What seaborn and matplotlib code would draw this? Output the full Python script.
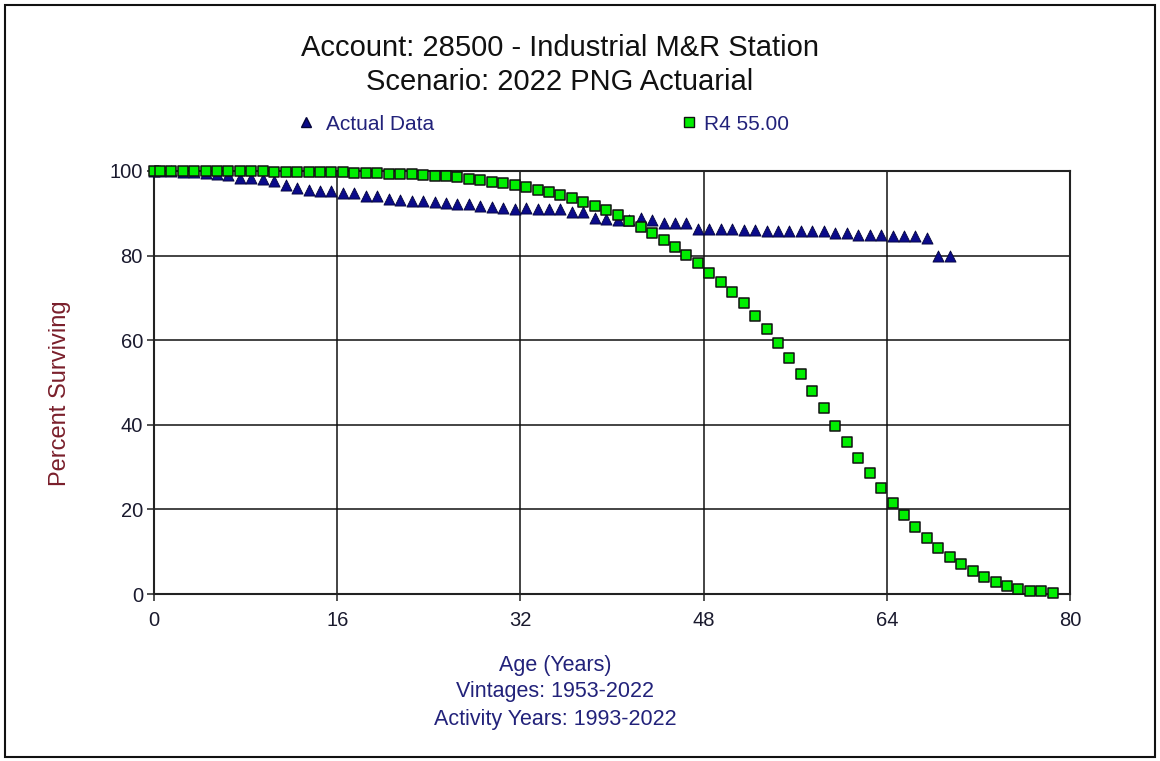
import numpy as np
import pandas as pd
import matplotlib
matplotlib.use("Agg")
import matplotlib.pyplot as plt
from matplotlib.lines import Line2D
from matplotlib.patches import Rectangle
import seaborn as sns

# ---------------- data ----------------
actual_age = [0, 0.5] + [i + 0.5 for i in range(1, 70)]
actual_pct = [100, 100, 99.9, 99.8, 99.7, 99.6, 99.4, 99.0, 98.4, 98.3,
              98.0, 97.7, 96.7, 95.9, 95.6, 95.2, 95.3, 94.8, 94.7, 94.2,
              94.0, 93.4, 93.1, 93.0, 92.8, 92.7, 92.4, 92.3, 92.1, 91.8,
              91.6, 91.3, 91.0, 91.2, 91.0, 91.0, 91.0, 90.2, 90.2, 88.8,
              88.6, 88.4, 88.4, 88.8, 88.4, 87.8, 87.6, 87.6, 86.4, 86.4,
              86.2, 86.2, 86.1, 86.0, 85.8, 85.8, 85.8, 85.8, 85.8, 85.8,
              85.3, 85.3, 84.9, 84.9, 84.9, 84.6, 84.6, 84.6, 84.1, 79.8,
              79.8]

r4_age = [0, 0.5] + [i + 0.5 for i in range(1, 79)]
r4_pct = [100, 100, 100, 100, 100, 99.9, 99.9, 99.9, 99.9, 99.9,
          99.9, 99.8, 99.8, 99.8, 99.8, 99.7, 99.7, 99.7, 99.6, 99.6,
          99.5, 99.4, 99.3, 99.2, 99.1, 98.9, 98.7, 98.5, 98.2, 97.9,
          97.5, 97.1, 96.7, 96.2, 95.6, 95.0, 94.3, 93.5, 92.7, 91.7,
          90.7, 89.5, 88.2, 86.8, 85.3, 83.7, 82.0, 80.2, 78.2, 76.0,
          73.8, 71.3, 68.7, 65.8, 62.7, 59.3, 55.7, 51.9, 48.0, 44.0,
          39.8, 35.9, 32.1, 28.5, 25.0, 21.6, 18.6, 15.9, 13.3, 10.9,
          8.8, 7.0, 5.4, 4.1, 2.9, 2.0, 1.3, 0.8, 0.6, 0.3]

x_ticks = [0, 16, 32, 48, 64, 80]
y_ticks = [0, 20, 40, 60, 80, 100]

title_lines = ["Account: 28500 - Industrial M&R Station",
               "Scenario: 2022 PNG Actuarial"]
legend_labels = ["Actual Data", "R4 55.00"]
xlabel_lines = ["Age (Years)", "Vintages: 1953-2022", "Activity Years: 1993-2022"]
ylabel = "Percent Surviving"

# ---------------- style ----------------
sns.set_theme(style="white")
plt.rcParams['font.family'] = ['Liberation Sans', 'DejaVu Sans']

tri_color = "#0b0b8a"
sq_color = "#00ee00"
tick_color = "#1a1a2e"
navy_text = "#22227a"
maroon = "#7a1f2b"

fig = plt.figure(figsize=(11.6, 7.61), dpi=100)
ax = fig.add_axes([154 / 1160, 1 - 594 / 761, 916 / 1160, 423 / 761])

df_a = pd.DataFrame({"age": actual_age, "pct": actual_pct})
df_r = pd.DataFrame({"age": r4_age, "pct": r4_pct})

sns.scatterplot(data=df_a, x="age", y="pct", ax=ax, marker="^", s=64,
                color=tri_color, edgecolor="#05053a", linewidth=0.6,
                clip_on=False, zorder=3)
sns.scatterplot(data=df_r, x="age", y="pct", ax=ax, marker="s", s=52,
                color=sq_color, edgecolor="#111111", linewidth=1.1,
                clip_on=False, zorder=4)

ax.set_xlim(0, 80)
ax.set_ylim(0, 100)
ax.set_xticks(x_ticks)
ax.set_yticks(y_ticks)
ax.grid(True, color="#111111", linewidth=1.1)
ax.set_axisbelow(True)
for sp in ax.spines.values():
    sp.set_color("#222222")
    sp.set_linewidth(1.5)
ax.tick_params(axis="both", direction="out", length=5, width=1.1,
               colors="#222222", labelsize=14.5, labelcolor=tick_color,
               left=True, bottom=True)
ax.tick_params(axis="x", pad=7)
ax.tick_params(axis="y", pad=3)
ax.set_xlabel("")
ax.set_ylabel("")
fig.text(60 / 1160, 1 - 393 / 761, ylabel, rotation=90, ha="center",
         va="center", fontsize=17, color=maroon)

# title
fig.text(560 / 1160, 1 - 48 / 761, title_lines[0], ha="center", va="center",
         fontsize=21, color="#111111")
fig.text(560 / 1160, 1 - 82 / 761, title_lines[1], ha="center", va="center",
         fontsize=21, color="#111111")

# legend (two single-entry legends)
h_tri = Line2D([], [], marker="^", linestyle="none", markersize=7.5,
               markerfacecolor=tri_color, markeredgecolor="#05053a")
h_sq = Line2D([], [], marker="s", linestyle="none", markersize=7,
              markerfacecolor=sq_color, markeredgecolor="#111111")
leg1 = fig.legend([h_tri], [legend_labels[0]], frameon=False,
                  loc="center left", bbox_to_anchor=(298 / 1160, 1 - 124 / 761),
                  fontsize=15, handlelength=0.8, handletextpad=0.55,
                  borderaxespad=0, borderpad=0)
leg2 = fig.legend([h_sq], [legend_labels[1]], frameon=False,
                  loc="center left", bbox_to_anchor=(681 / 1160, 1 - 124 / 761),
                  fontsize=15, handlelength=0.8, handletextpad=0.3,
                  borderaxespad=0, borderpad=0)
for lg in (leg1, leg2):
    for t in lg.get_texts():
        t.set_color(navy_text)

# x labels
for line, yp in zip(xlabel_lines, [666, 692, 720]):
    fig.text(555 / 1160, 1 - yp / 761, line, ha="center", va="center",
             fontsize=15.5, color=navy_text)

# figure border
fig.add_artist(Rectangle((5 / 1160, 4 / 761), 1150 / 1160, 752 / 761,
                         transform=fig.transFigure, fill=False,
                         edgecolor="#111111", linewidth=1.5))

fig.savefig("out.png", dpi=100)
